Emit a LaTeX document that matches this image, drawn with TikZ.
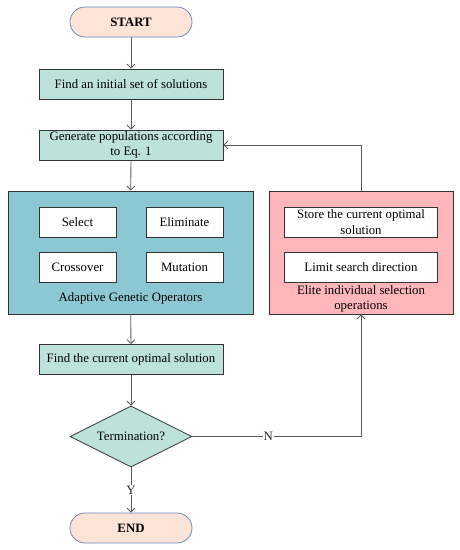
\documentclass[tikz,border=0pt]{standalone}
\usepackage{fontspec}
\setmainfont{Liberation Serif}
\usepackage{xcolor}
\usetikzlibrary{arrows.meta, positioning, shapes.geometric, calc}

\definecolor{termfill}{HTML}{FCE4D6}
\definecolor{termline}{HTML}{6C8EBF}
\definecolor{procfill}{HTML}{BDE2D9}
\definecolor{agofill}{HTML}{8CC8D3}
\definecolor{elitefill}{HTML}{FFB6BA}

\begin{document}
\begin{tikzpicture}[
    x=1pt, y=-1pt,
    every node/.style={font=\fontsize{12.8}{15.5}\selectfont},
    term/.style={rectangle, draw=termline, thick, fill=termfill, rounded corners=15pt,
                 minimum width=122pt, minimum height=30pt, inner sep=0pt, font=\fontsize{12.8}{15.5}\selectfont\bfseries},
    proc/.style={rectangle, draw=black!80, thick, fill=procfill, minimum width=184pt,
                 minimum height=30pt, inner sep=1pt, align=center},
    grp/.style={rectangle, draw=black!80, thick, minimum height=123pt},
    opn/.style={rectangle, draw=black!80, thick, fill=white, minimum height=30pt,
                inner sep=1pt, align=center},
    cond/.style={diamond, aspect=2, draw=black!80, thick, fill=procfill, minimum width=122pt,
                 minimum height=61pt, inner sep=0pt},
    arr/.style={-{Straight Barb[length=4pt, width=8pt]}, thick, black!65},
    lbl/.style={fill=white, text=black!85, inner sep=1pt},
  ]
    \useasboundingbox (0,0) rectangle (460,550);
    \node[term] (start) at (131, 22) {START};
    \node[proc] (init) at (131, 84) {Find an initial set of solutions};
    \node[proc] (gen) at (131, 145) {Generate populations according\\to Eq. 1};
    % adaptive genetic operators
    \node[grp, fill=agofill, minimum width=245pt] (ago) at (130.5, 252.5) {};
    \foreach \k/\x/\y/\t in {sel/77.5/222/Select, eli/184.5/222/Eliminate,
                            cro/77.5/267.5/Crossover, mut/184.5/267.5/Mutation}{
      \node[opn, minimum width=77pt] (\k) at (\x, \y) {\t};}
    \node (agolbl) at (130.5, 298) {Adaptive Genetic Operators};
    % elite individual selection
    \node[grp, fill=elitefill, minimum width=184pt] (elite) at (361, 252.5) {};
    \node[opn, minimum width=153pt] (store) at (361, 222) {Store the current optimal\\solution};
    \node[opn, minimum width=153pt] (limit) at (361, 267.5) {Limit search direction};
    \node[align=center] (elitelbl) at (361, 299) {Elite individual selection\\operations};
    \node[proc] (best) at (131, 359.5) {Find the current optimal solution};
    \node[cond] (term) at (131, 436.5) {Termination?};
    \node[term] (end) at (131, 528) {END};
    \draw[arr] (start) -- (init);
    \draw[arr] (init) -- (gen);
    \draw[arr] (gen) -- (ago);
    \draw[arr] (ago) -- (best);
    \draw[arr] (best) -- (term);
    \draw[arr] (term) -- (end) node[midway, lbl] {Y};
    \draw[arr] (term) -| (elite) node[pos=0.225, lbl] {N};
    \draw[arr] (elite) |- (gen);
\end{tikzpicture}
\end{document}
